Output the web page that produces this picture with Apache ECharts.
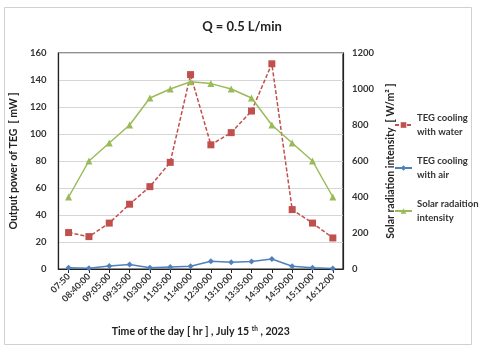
<!DOCTYPE html>
<html>
<head>
<meta charset="utf-8">
<script src="https://cdn.jsdelivr.net/npm/echarts@6/dist/echarts.min.js"></script>
<style>
  html, body { margin: 0; padding: 0; background: #fff; }
  #main { width: 480px; height: 358px; }
</style>
</head>
<body>
<div id="main"></div>
<script>
var times = ['07:50', '08:40:00', '09:05:00', '09:35:00', '10:30:00', '11:05:00', '11:40:00',
    '12:30:00', '13:10:00', '13:35:00', '14:30:00', '14:50:00', '15:10:00', '16:12:00'];
var waterPower = [27, 24, 34, 48, 61, 79, 144, 92, 101, 117, 152, 44, 34, 23];
var airPower = [1, 0.5, 2.2, 3.3, 1, 1.5, 2, 5.8, 5, 5.5, 7.4, 2, 1, 0.3];
var solar = [400, 600, 700, 800, 950, 1000, 1040, 1030, 1000, 950, 800, 700, 600, 400];

var myChart = echarts.init(document.getElementById('main'));
var font = 'Lato, "Open Sans", sans-serif';

option = {
    textStyle: { fontFamily: font },
    graphic: [{
        type: 'rect',
        shape: { x: 4.5, y: 7.5, width: 467, height: 337 },
        style: { fill: 'none', stroke: '#d0d0d0', lineWidth: 1 }
    }],
    title: {
        text: 'Q = 0.5 L/min',
        left: 237,
        textAlign: 'center',
        top: 15,
        textStyle: { fontSize: 13, fontWeight: 'bold', color: '#222', fontFamily: font }
    },
    legend: {
        orient: 'vertical',
        left: 389,
        top: 106,
        itemGap: 15,
        itemWidth: 17,
        itemHeight: 7,
        textStyle: { fontSize: 9.5, fontWeight: 'bold', color: '#333', lineHeight: 14, fontFamily: font },
        data: [
            'TEG cooling\nwith water',
            'TEG cooling\nwith air',
            'Solar radaition\nintensity'
        ]
    },
    grid: { left: 44, right: 137, top: 53, bottom: 89, show: true, borderColor: '#222', borderWidth: 1.2 },
    xAxis: {
        type: 'category',
        data: times,
        boundaryGap: true,
        name: '{n|Time of the day [ hr ] , July 15 }{s|th}{n| , 2023}',
        nameLocation: 'middle',
        nameGap: 56,
        nameTextStyle: {
            rich: {
                n: { fontSize: 10.5, fontWeight: 'bold', color: '#222', fontFamily: font },
                s: { fontSize: 6.5, fontWeight: 'bold', color: '#222', verticalAlign: 'top', padding: [0, 0, 6, 0], fontFamily: font }
            }
        },
        axisLine: { lineStyle: { color: '#222', width: 1.2 } },
        axisTick: { show: true, alignWithLabel: true, length: 4, lineStyle: { color: '#222' } },
        axisLabel: { rotate: 45, fontSize: 9, fontWeight: 'bold', color: '#333', interval: 0, margin: 6 },
        splitLine: { show: false }
    },
    yAxis: [{
        type: 'value',
        min: 0,
        max: 160,
        interval: 20,
        name: 'Output power of TEG  [ mW ]',
        nameLocation: 'middle',
        nameGap: 30,
        nameTextStyle: { fontSize: 10.5, fontWeight: 'bold', color: '#222' },
        axisLine: { show: true, lineStyle: { color: '#222', width: 1.2 } },
        axisTick: { show: false },
        axisLabel: { fontSize: 9.5, fontWeight: 'bold', color: '#333', margin: 12 },
        splitLine: { lineStyle: { color: '#d6d6d6', width: 1 } }
    }, {
        type: 'value',
        min: 0,
        max: 1200,
        interval: 200,
        name: 'Solar radiation intensity  [ W/m\u00b2 ]',
        nameLocation: 'middle',
        nameGap: 33,
        nameRotate: 90,
        nameTextStyle: { fontSize: 10.5, fontWeight: 'bold', color: '#222', verticalAlign: 'top' },
        axisLine: { show: true, lineStyle: { color: '#222', width: 1.2 } },
        axisTick: { show: false },
        axisLabel: {
            fontSize: 9.5, fontWeight: 'bold', color: '#333', margin: 9,
            formatter: function (v) { return String(v); }
        },
        splitLine: { show: false }
    }],
    series: [{
        name: 'TEG cooling\nwith water',
        type: 'line',
        yAxisIndex: 0,
        data: waterPower,
        symbol: 'rect',
        symbolSize: 7,
        itemStyle: { color: '#c0504d' },
        lineStyle: { color: '#c0504d', width: 1.5, type: [4, 2] }
    }, {
        name: 'TEG cooling\nwith air',
        type: 'line',
        yAxisIndex: 0,
        data: airPower,
        symbol: 'diamond',
        symbolSize: 6,
        itemStyle: { color: '#4f81bd' },
        lineStyle: { color: '#4f81bd', width: 1.5 }
    }, {
        name: 'Solar radaition\nintensity',
        type: 'line',
        yAxisIndex: 1,
        data: solar,
        symbol: 'triangle',
        symbolSize: 7,
        itemStyle: { color: '#9bbb59' },
        lineStyle: { color: '#9bbb59', width: 1.5 }
    }]
};

myChart.setOption(option);
</script>
</body>
</html>
